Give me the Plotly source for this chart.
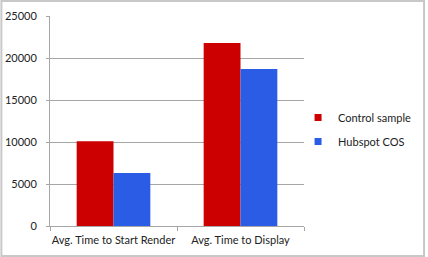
import plotly.graph_objects as go

categories = ["Avg. Time to Start Render", "Avg. Time to Display"]
control_sample = [10100, 21800]
hubspot_cos = [6300, 18700]
series_names = ["Control sample", "Hubspot COS"]
y_ticks = [0, 5000, 10000, 15000, 20000, 25000]

RED = "#cc0000"
BLUE = "#2a5ce6"
FONT = "Lato, 'Open Sans', sans-serif"

W, H = 428, 257
L, R, T, B = 50, 122, 16, 31
pw, ph = W - L - R, H - T - B

fig = go.Figure()
for name, vals, col in [(series_names[0], control_sample, RED), (series_names[1], hubspot_cos, BLUE)]:
    fig.add_trace(go.Bar(x=categories, y=vals, name=name, marker=dict(color=col, line=dict(width=0)),
                         showlegend=False))
    fig.add_trace(go.Scatter(x=[None], y=[None], mode="markers", name=name, legendgroup=name,
                             marker=dict(symbol="square", size=7, color=col)))

def px2x(p):
    return (p - L) / pw

def py2y(p):
    return (H - B - p) / ph

fig.update_layout(
    width=W, height=H,
    margin=dict(l=L, r=R, t=T, b=B, pad=0),
    paper_bgcolor="white", plot_bgcolor="white",
    barmode="group", bargap=0.42, bargroupgap=0,
    font=dict(family=FONT, size=11, color="#222222"),
    xaxis=dict(showline=True, linecolor="#a6a6a6", linewidth=1, ticks="outside", tickson="boundaries",
               ticklen=4, tickcolor="#a6a6a6", showgrid=False, tickfont=dict(size=11),
               tickangle=0, automargin=False, ticklabelstandoff=4),
    yaxis=dict(range=[0, 25000], tickvals=y_ticks, tickformat="d", showline=True, linecolor="#a6a6a6",
               linewidth=1, ticks="outside", ticklen=3, tickcolor="#a6a6a6", showgrid=True,
               gridcolor="#a6a6a6", gridwidth=1, zeroline=False, tickfont=dict(size=11),
               ticklabelstandoff=7, automargin=False),
    legend=dict(x=px2x(300), y=py2y(103), xanchor="left", yanchor="top", tracegroupgap=5,
                font=dict(size=11), bgcolor="rgba(0,0,0,0)", itemwidth=30),
    shapes=[dict(type="rect", xref="paper", yref="paper", x0=px2x(1), x1=px2x(427), y0=py2y(256), y1=py2y(1),
                 line=dict(color="#c8c8c8", width=2), layer="below")],
)

fig.write_html("out.html")
